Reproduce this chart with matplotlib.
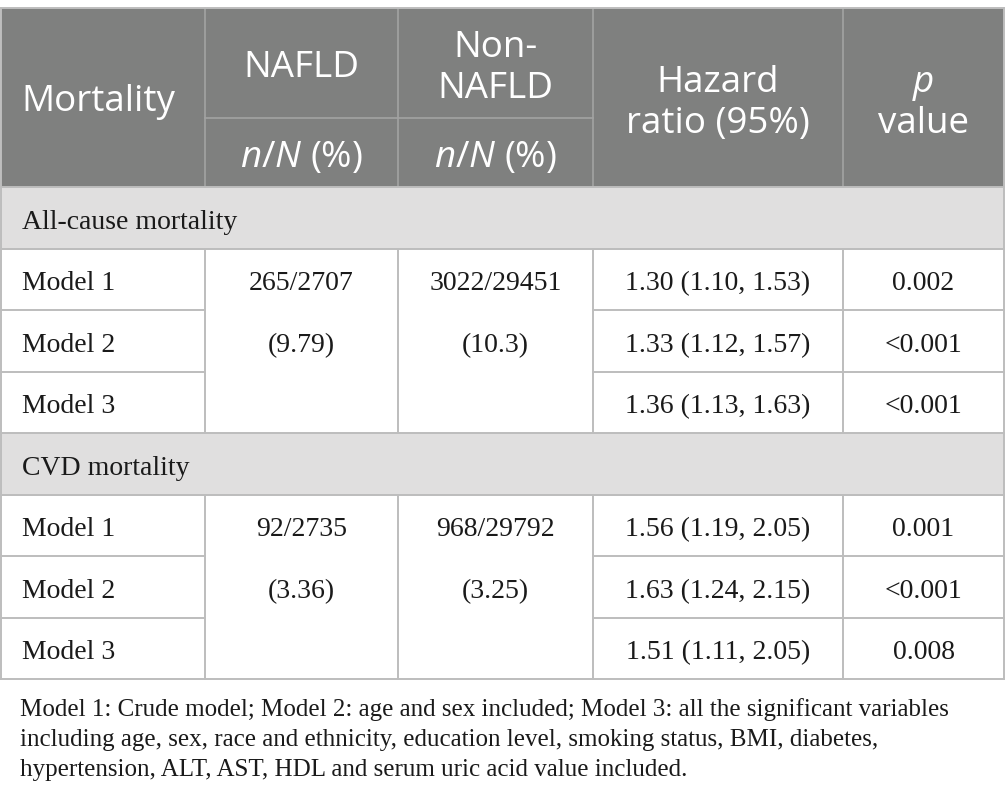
import matplotlib

matplotlib.use("Agg")
import matplotlib.pyplot as plt
from matplotlib.patches import Rectangle

plt.rcParams["mathtext.fontset"] = "custom"
plt.rcParams["mathtext.rm"] = "Open Sans"
plt.rcParams["mathtext.it"] = "Open Sans:italic"

# table content
sections = ["All-cause mortality", "CVD mortality"]
models = ["Model 1", "Model 2", "Model 3"]
nafld_counts = ["265/2707", "92/2735"]
nafld_pct = ["(9.79)", "(3.36)"]
non_nafld_counts = ["3022/29451", "968/29792"]
non_nafld_pct = ["(10.3)", "(3.25)"]
hazard_ratios = [
    ["1.30 (1.10, 1.53)", "1.33 (1.12, 1.57)", "1.36 (1.13, 1.63)"],
    ["1.56 (1.19, 2.05)", "1.63 (1.24, 2.15)", "1.51 (1.11, 2.05)"],
]
p_values = [
    ["0.002", "<0.001", "<0.001"],
    ["0.001", "<0.001", "0.008"],
]
footnote = [
    "Model 1: Crude model; Model 2: age and sex included; Model 3: all the significant variables",
    "including age, sex, race and ethnicity, education level, smoking status, BMI, diabetes,",
    "hypertension, ALT, AST, HDL and serum uric acid value included.",
]

W, H = 1005, 809
col_x = [1, 205, 398, 593, 843, 1004]
top, head_mid, head_bot = 8, 118, 187
row_h = 61.5
header_bg = "#7f807f"
section_bg = "#e0dfdf"
grid = "#bdbdbd"
head_grid = "#a3a3a3"
ink = "#1a1a1a"
sans = "Open Sans"
serif = "Liberation Serif"
hfs = 26.5
bfs = 20

fig = plt.figure(figsize=(W / 100, H / 100), dpi=100)
ax = fig.add_axes([0, 0, 1, 1])
ax.set_xlim(0, W)
ax.set_ylim(H, 0)
ax.axis("off")

# header block
ax.add_patch(Rectangle((col_x[0], top), col_x[-1] - col_x[0], head_bot - top, color=header_bg, lw=0))
for x in col_x[1:-1]:
    ax.plot([x, x], [top, head_bot], color=head_grid, lw=1.2)
ax.plot([col_x[1], col_x[3]], [head_mid, head_mid], color=head_grid, lw=1.2)


def htext(x, y, s, ha="center", style="normal"):
    ax.text(x, y, s, ha=ha, va="baseline", fontsize=hfs, family=sans, color="white", style=style)


cx = [(col_x[i] + col_x[i + 1]) / 2 for i in range(5)]
htext(21, 111, "Mortality", ha="left")
htext(cx[1], 77, "NAFLD")
htext(cx[1], 167, r"$\mathit{n}$/$\mathit{N}$ (%)")
htext(cx[2], 56.5, "Non-")
htext(cx[2], 98, "NAFLD")
htext(cx[2], 167, r"$\mathit{n}$/$\mathit{N}$ (%)")
htext(cx[3], 91.5, "Hazard")
htext(cx[3], 133, "ratio (95%)")
htext(cx[4], 91.5, "p", style="italic")
htext(cx[4], 133, "value")


def btext(x, y, s, ha="center"):
    ax.text(x, y, s, ha=ha, va="baseline", fontsize=bfs, family=serif, color=ink)


y = head_bot
for si, name in enumerate(sections):
    ax.add_patch(Rectangle((col_x[0], y), col_x[-1] - col_x[0], row_h, color=section_bg, lw=0))
    btext(22, y + row_h / 2 + 11.5, name, ha="left")
    ax.plot([col_x[0], col_x[-1]], [y, y], color=grid, lw=1.4)
    y += row_h
    block_top = y
    for mi, m in enumerate(models):
        cy = y + row_h / 2 + 11
        btext(22, cy, m, ha="left")
        btext(cx[3], cy, hazard_ratios[si][mi])
        btext(cx[4], cy, p_values[si][mi])
        if mi == 0:
            btext(cx[1], cy, nafld_counts[si])
            btext(cx[2], cy, non_nafld_counts[si])
        if mi == 1:
            btext(cx[1], cy, nafld_pct[si])
            btext(cx[2], cy, non_nafld_pct[si])
        ax.plot([col_x[0], col_x[1]], [y, y], color=grid, lw=1.4)
        ax.plot([col_x[3], col_x[-1]], [y, y], color=grid, lw=1.4)
        y += row_h
    ax.plot([col_x[0], col_x[-1]], [block_top, block_top], color=grid, lw=1.4)
    for x in col_x[1:-1]:
        ax.plot([x, x], [block_top, y], color=grid, lw=1.4)
ax.plot([col_x[0], col_x[-1]], [y, y], color=grid, lw=1.4)

# outer border
ax.plot([col_x[0], col_x[-1]], [top, top], color=grid, lw=1.4)
ax.plot([col_x[0], col_x[0]], [top, y], color=grid, lw=1.4)
ax.plot([col_x[-1], col_x[-1]], [top, y], color=grid, lw=1.4)

for i, line in enumerate(footnote):
    ax.text(20, 716 + i * 30, line, ha="left", va="baseline", fontsize=18, family=serif, color=ink)

fig.savefig("out.png", dpi=100)
